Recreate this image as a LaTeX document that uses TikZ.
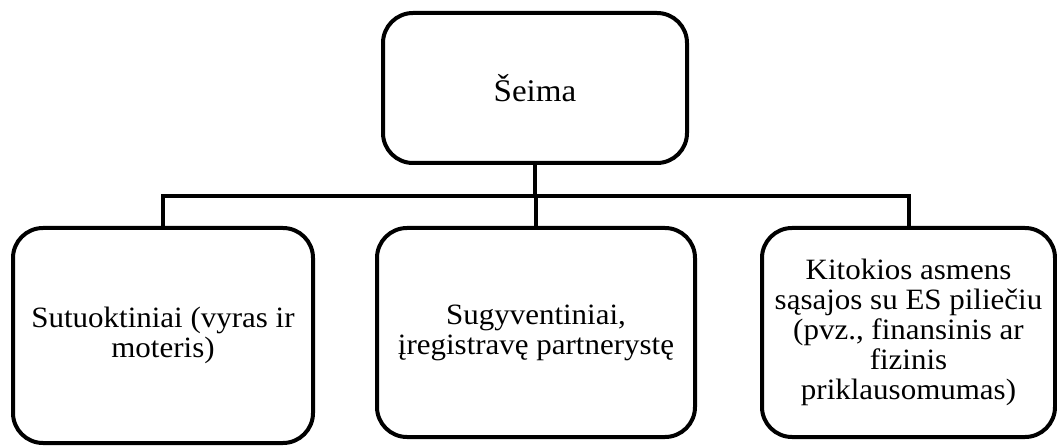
\documentclass[tikz,border=0pt]{standalone}
\usepackage{fontspec}
\setmainfont{Liberation Serif}[FakeStretch=1.05]
\begin{document}
\begin{tikzpicture}[x=1pt,y=-1pt,
  box/.style={draw=black,line width=4pt,rounded corners=30pt,fill=white,
    inner sep=0pt,align=center,font=\fontsize{29.5}{30}\selectfont},
  link/.style={draw=black,line width=4pt}]
  \useasboundingbox[fill=white] (0,0) rectangle (1057,446);

  % parent box
  \node[box,minimum width=304pt,minimum height=150pt,
    font=\fontsize{31.5}{32}\selectfont] (top) at (535,88) {Šeima};

  % child boxes
  \node[box,minimum width=300pt,minimum height=215pt] (left) at (163,335.5)
    {Sutuoktiniai (vyras ir\\moteris)};
  \node[box,minimum width=318pt,minimum height=209pt] (mid) at (536,332.5)
    {Sugyventiniai,\\įregistravę partnerystę};
  \node[box,minimum width=293pt,minimum height=209pt] (right) at (908.5,332.5)
    {Kitokios asmens\\sąsajos su ES piliečiu\\(pvz., finansinis ar\\fizinis\\priklausomumas)};

  % bus joining the parent to the children
  \coordinate (bus) at (535,196);
  \draw[link] (top.south) -- (bus);
  \draw[link] (left.north) |- (bus) -| (right.north);
  \draw[link] (bus -| mid.north) -- (mid.north);
\end{tikzpicture}
\end{document}
